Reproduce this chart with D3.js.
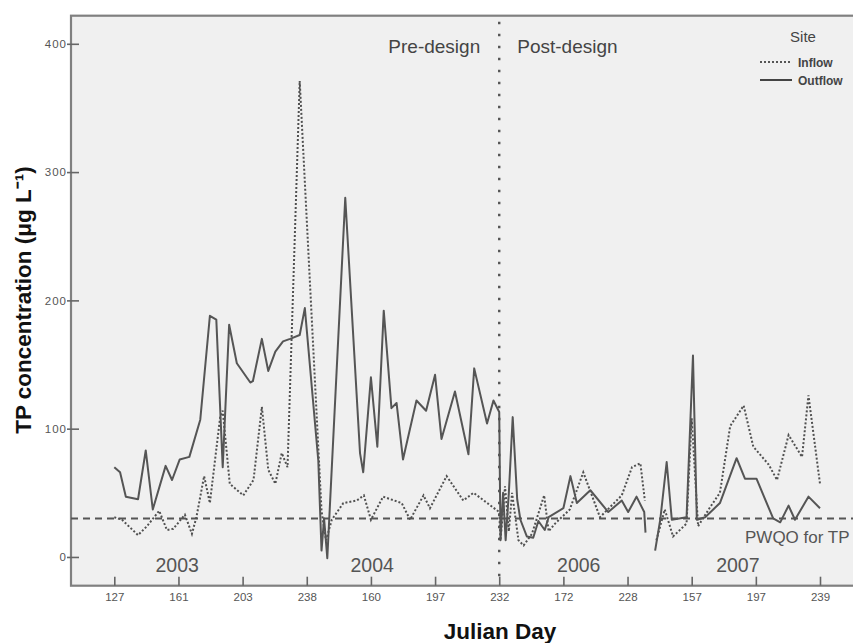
<!DOCTYPE html>
<html>
<head>
<meta charset="utf-8">
<script src="https://cdn.jsdelivr.net/npm/d3@7"></script>
<style>
  body { margin: 0; background: #fff; }
  svg { display: block; font-family: Arial, "Liberation Sans", sans-serif; }
</style>
</head>
<body>
<div id="chart"></div>
<script>
/* globals d3 */

// x positions are sample positions along the axis (one tick every 10 units)
const tickPositions = [0, 10, 20, 30, 40, 50, 60, 70, 80, 90, 100, 110];
const tickLabels = ["127", "161", "203", "238", "160", "197", "232", "172", "228", "157", "197", "239"];
const yTicks = [0, 100, 200, 300, 400];

const outflowPos = [0, 0.9, 1.8, 3.7, 4.9, 6.0, 8.0, 9.0, 10.2, 11.7, 13.4, 14.9, 15.9, 16.9, 17.9, 19.1, 21.2, 21.6, 23.0, 24.0, 25.1, 26.3, 27.4, 28.9, 29.7, 31.8, 32.3, 32.7, 33.2, 36.0, 38.3, 38.8, 40.0, 41.0, 42.0, 43.2, 44.0, 45.0, 47.1, 48.6, 50.0, 51.0, 53.1, 55.2, 56.1, 58.1, 59.1, 60.0, 60.2, 60.6, 61.0, 61.5, 62.1, 62.8, 63.3, 64.3, 65.3, 66.1, 67.1, 67.7, 70.0, 71.1, 72.1, 74.2, 77.0, 79.1, 80.1, 81.4, 82.6, 82.8, null, 84.3, 85.1, 86.1, 86.9, 89.2, 90.2, 90.8, 92.1, 94.4, 97.0, 98.3, 100.1, 102.7, 103.8, 105.1, 106.1, 108.2, 110.0];
const outflowTP = [70, 66, 47, 45, 83, 37, 71, 60, 76, 78, 107, 188, 185, 70, 181, 151, 136, 137, 170, 145, 160, 168, 170, 173, 194, 75, 5, 30, -1, 280, 81, 66, 140, 86, 192, 116, 120, 76, 122, 114, 142, 92, 129, 80, 147, 104, 122, 113, 13, 50, 13, 50, 109, 45, 29, 16, 15, 28, 21, 31, 38, 63, 42, 52, 35, 44, 35, 47, 35, 19, null, 5, 29, 74, 29, 31, 157, 29, 31, 42, 77, 61, 61, 30, 27, 40, 29, 47, 38];

const inflowPos = [0, 1.2, 3.7, 5.1, 7.0, 8.2, 9.2, 11.0, 12.1, 12.8, 14.0, 14.9, 16.5, 16.9, 18.0, 20.1, 21.7, 23.0, 24.0, 25.1, 26.1, 27.0, 28.9, 32.3, 33.0, 33.9, 35.7, 37.8, 38.9, 40.0, 41.9, 44.8, 46.1, 48.2, 49.2, 51.8, 54.4, 56.0, 60.0, 60.2, 60.9, 61.5, 62.0, 63.0, 63.8, 65.1, 67.0, 67.7, 68.7, 71.0, 73.1, 75.7, 79.1, 80.7, 82.0, 82.7, null, 84.5, 85.8, 87.1, 89.2, 90.0, 91.0, 92.9, 94.4, 96.0, 98.1, 99.6, 102.0, 103.3, 105.1, 107.2, 108.2, 110.0];
const inflowTP = [31, 29, 17, 24, 36, 21, 22, 33, 18, 31, 63, 42, 109, 114, 57, 48, 60, 117, 68, 57, 81, 70, 371, 36, 13, 29, 42, 44, 48, 29, 47, 42, 29, 48, 38, 63, 44, 50, 35, 13, 55, 20, 50, 13, 9, 18, 48, 20, 26, 37, 66, 31, 48, 70, 73, 44, null, 13, 37, 16, 26, 108, 24, 39, 50, 102, 118, 86, 72, 60, 95, 78, 126, 57];

const pwqo = 30;
const designChange = 60;
const yearLabels = ["2003", "2004", "2006", "2007"];
const yearPos = [9.8, 40.2, 72.4, 97.2];

const width = 853, height = 643;

const x = d3.scaleLinear().domain([0, 110]).range([114.3, 820]);
const y = d3.scaleLinear().domain([-22.4, 421.9]).range([585.7, 15.7]);

const plotLeft = 71, plotRight = 856, plotTop = 15.7, plotBottom = 585.7;

const svg = d3.select("#chart").append("svg")
  .attr("width", width)
  .attr("height", height);

// plot background
svg.append("rect")
  .attr("x", plotLeft).attr("y", plotTop)
  .attr("width", plotRight - plotLeft).attr("height", plotBottom - plotTop)
  .attr("fill", "#f0f0f0")
  .attr("stroke", "#808080")
  .attr("stroke-width", 2.2);

// axes (ticks point into the plot)
const xAxis = d3.axisBottom(x)
  .tickValues(tickPositions)
  .tickFormat((d, i) => tickLabels[i])
  .tickSizeOuter(0);

svg.append("g")
  .attr("transform", `translate(0,${plotBottom})`)
  .call(xAxis)
  .call(g => g.select(".domain").remove())
  .call(g => g.selectAll("line").attr("y1", 0).attr("y2", -9).attr("stroke", "#666").attr("stroke-width", 1.6))
  .call(g => g.selectAll("text").attr("fill", "#555").attr("font-size", 11.5).attr("y", 5).attr("dy", "0.9em"));

const yAxis = d3.axisLeft(y)
  .tickValues(yTicks)
  .tickSizeOuter(0);

svg.append("g")
  .attr("transform", `translate(${plotLeft},0)`)
  .call(yAxis)
  .call(g => g.select(".domain").remove())
  .call(g => g.selectAll("line").attr("x1", -4).attr("x2", 8).attr("stroke", "#666").attr("stroke-width", 1.6))
  .call(g => g.selectAll("text").attr("fill", "#555").attr("font-size", 11.5).attr("x", -4).attr("letter-spacing", 1));

// PWQO reference line
svg.append("line")
  .attr("x1", plotLeft).attr("x2", plotRight)
  .attr("y1", y(pwqo)).attr("y2", y(pwqo))
  .attr("stroke", "#555")
  .attr("stroke-width", 1.8)
  .attr("stroke-dasharray", "7,5");

svg.append("text")
  .attr("x", 745).attr("y", y(pwqo) + 25)
  .attr("fill", "#555")
  .attr("font-size", 17)
  .text("PWQO for TP");

// design change line
svg.append("line")
  .attr("x1", x(designChange)).attr("x2", x(designChange))
  .attr("y1", plotTop + 6).attr("y2", plotBottom)
  .attr("stroke", "#555")
  .attr("stroke-width", 2.4)
  .attr("stroke-dasharray", "2.5,9.5");

svg.append("text")
  .attr("x", x(designChange) - 19).attr("y", 53)
  .attr("text-anchor", "end")
  .attr("fill", "#444")
  .attr("font-size", 19)
  .text("Pre-design");

svg.append("text")
  .attr("x", x(designChange) + 18).attr("y", 53)
  .attr("fill", "#444")
  .attr("font-size", 19)
  .text("Post-design");

// year labels
svg.selectAll(".year")
  .data(yearLabels)
  .join("text")
  .attr("class", "year")
  .attr("x", (d, i) => x(yearPos[i]))
  .attr("y", y(-11.5))
  .attr("text-anchor", "middle")
  .attr("fill", "#555")
  .attr("font-size", 19.5)
  .text(d => d);

// series
const outflow = outflowPos.map((p, i) => ({ p: p, v: outflowTP[i] }));
const inflow = inflowPos.map((p, i) => ({ p: p, v: inflowTP[i] }));

const line = d3.line()
  .defined(d => d.p !== null)
  .x(d => x(d.p))
  .y(d => y(d.v));

svg.append("path")
  .datum(inflow)
  .attr("d", line)
  .attr("fill", "none")
  .attr("stroke", "#505050")
  .attr("stroke-width", 2)
  .attr("stroke-dasharray", "2,2");

svg.append("path")
  .datum(outflow)
  .attr("d", line)
  .attr("fill", "none")
  .attr("stroke", "#555")
  .attr("stroke-width", 2)
  .attr("stroke-linejoin", "round");

// legend
const legend = svg.append("g").attr("transform", "translate(760,0)");
legend.append("text")
  .attr("x", 43).attr("y", 42)
  .attr("text-anchor", "middle")
  .attr("fill", "#444")
  .attr("font-size", 15)
  .text("Site");

legend.append("line")
  .attr("x1", 0).attr("x2", 32).attr("y1", 62).attr("y2", 62)
  .attr("stroke", "#555").attr("stroke-width", 2).attr("stroke-dasharray", "2,2");
legend.append("text")
  .attr("x", 38).attr("y", 66.5)
  .attr("fill", "#444").attr("font-size", 12).attr("font-weight", "bold")
  .text("Inflow");

legend.append("line")
  .attr("x1", 0).attr("x2", 32).attr("y1", 80).attr("y2", 80)
  .attr("stroke", "#444").attr("stroke-width", 2);
legend.append("text")
  .attr("x", 38).attr("y", 84.5)
  .attr("fill", "#444").attr("font-size", 12).attr("font-weight", "bold")
  .text("Outflow");

// axis titles
svg.append("text")
  .attr("transform", "translate(31,300) rotate(-90)")
  .attr("text-anchor", "middle")
  .attr("font-size", 22.5)
  .attr("font-weight", "bold")
  .attr("fill", "#111")
  .text("TP concentration (μg L⁻¹)");

svg.append("text")
  .attr("x", 500).attr("y", 639)
  .attr("text-anchor", "middle")
  .attr("font-size", 22.5)
  .attr("font-weight", "bold")
  .attr("fill", "#111")
  .text("Julian Day");
</script>
</body>
</html>
